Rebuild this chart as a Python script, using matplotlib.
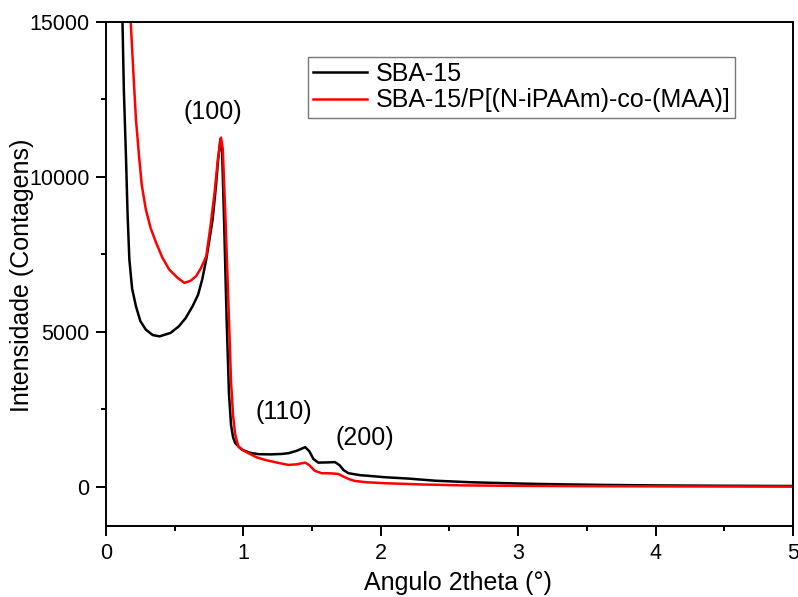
import matplotlib
matplotlib.use("Agg")
import matplotlib.pyplot as plt
from matplotlib.ticker import MultipleLocator

plt.rcParams['font.family'] = ['Liberation Sans', 'DejaVu Sans']

# SBA-15 diffractogram (2theta, counts)
sba_x = [0.10, 0.12, 0.13, 0.146, 0.157, 0.17, 0.19, 0.218, 0.25, 0.29, 0.34, 0.39,
         0.47, 0.53, 0.58, 0.63, 0.67, 0.70, 0.73, 0.776, 0.80, 0.815, 0.832,
         0.845, 0.86, 0.878, 0.895, 0.91, 0.925, 0.94, 0.97, 0.99, 1.05, 1.11,
         1.20, 1.28, 1.33, 1.39, 1.45, 1.48, 1.51, 1.545, 1.60, 1.667, 1.70,
         1.73, 1.765, 1.85, 1.92, 2.03, 2.20, 2.40, 2.65, 3.00, 3.30, 3.62,
         4.00, 4.50, 5.00]
sba_y = [17000, 15000, 12800, 10560, 8800, 7337, 6400, 5828, 5350, 5075, 4900, 4858,
         4970, 5181, 5450, 5828, 6200, 6690, 7350, 8630, 9700, 10500, 11216,
         10800, 8500, 5400, 3000, 2000, 1600, 1420, 1280, 1200, 1100, 1057,
         1050, 1065, 1090, 1170, 1283, 1150, 900, 785, 790, 800, 700,
         540, 442, 380, 355, 313, 270, 200, 152, 110, 85, 65,
         50, 38, 30]

# SBA-15/P[(N-iPAAm)-co-(MAA)] diffractogram (2theta, counts)
comp_x = [0.17, 0.18, 0.20, 0.218, 0.24, 0.26, 0.29, 0.325, 0.364, 0.41, 0.46,
          0.52, 0.57, 0.615, 0.655, 0.69, 0.73, 0.76, 0.79, 0.815, 0.837,
          0.85, 0.87, 0.895, 0.91, 0.925, 0.94, 0.963, 1.00, 1.036, 1.10, 1.157,
          1.25, 1.327, 1.39, 1.43, 1.45, 1.48, 1.52, 1.57, 1.63, 1.69, 1.73,
          1.77, 1.81, 1.90, 2.03, 2.30, 2.60, 3.00, 3.50, 4.00, 4.50, 5.00]
comp_y = [17000, 15000, 13300, 11860, 10700, 9750, 8950, 8350, 7886, 7400, 7014,
          6750, 6584, 6650, 6797, 7050, 7443, 8400, 9490, 10600, 11270,
          10900, 8600, 5400, 3400, 2300, 1700, 1303, 1180, 1089, 950, 873,
          780, 711, 730, 770, 785, 700, 520, 442, 440, 420, 330,
          250, 194, 150, 120, 80, 50, 35, 25, 18, 14, 10]

labels = ["SBA-15", "SBA-15/P[(N-iPAAm)-co-(MAA)]"]
peak_labels = ["(100)", "(110)", "(200)"]
peak_pos = [(0.78, 12088), (1.295, 2424), (1.885, 1584)]

W, H = 798, 597
fig = plt.figure(figsize=(W / 100, H / 100), dpi=100)
ax = fig.add_axes([106 / W, 1 - 526 / H, 687 / W, 504 / H])

ax.plot(sba_x, sba_y, color='black', lw=1.8, label=labels[0])
ax.plot(comp_x, comp_y, color='#ff0000', lw=1.8, label=labels[1])

for txt, (px, py) in zip(peak_labels, peak_pos):
    ax.text(px, py, txt, fontsize=18, ha='center', va='center')

ax.set_xlim(0, 5)
ax.set_ylim(-1260, 15000)
ax.xaxis.set_major_locator(MultipleLocator(1))
ax.xaxis.set_minor_locator(MultipleLocator(0.5))
ax.yaxis.set_major_locator(MultipleLocator(5000))
ax.yaxis.set_minor_locator(MultipleLocator(2500))
ax.tick_params(which='both', direction='out', width=1.4, labelsize=15.5, pad=5)
ax.tick_params(which='major', length=7)
ax.tick_params(which='minor', length=3.5)
for s in ax.spines.values():
    s.set_linewidth(1.4)

fig.text(458 / W, 1 - 583 / H, "Angulo 2theta (°)", fontsize=18,
         ha='center', va='center')
fig.text(22 / W, 1 - 275 / H, "Intensidade (Contagens)", fontsize=18,
         ha='center', va='center', rotation=90)

leg = ax.legend(loc='upper left', bbox_to_anchor=((308 - 106) / 687, (526 - 57) / 504),
                fontsize=18, frameon=True, fancybox=False, edgecolor='#555555',
                handlelength=2.15, borderpad=0.2, labelspacing=0.1,
                handletextpad=0.35, borderaxespad=0)
leg.get_frame().set_linewidth(1.0)

fig.savefig("out.png", dpi=100)
